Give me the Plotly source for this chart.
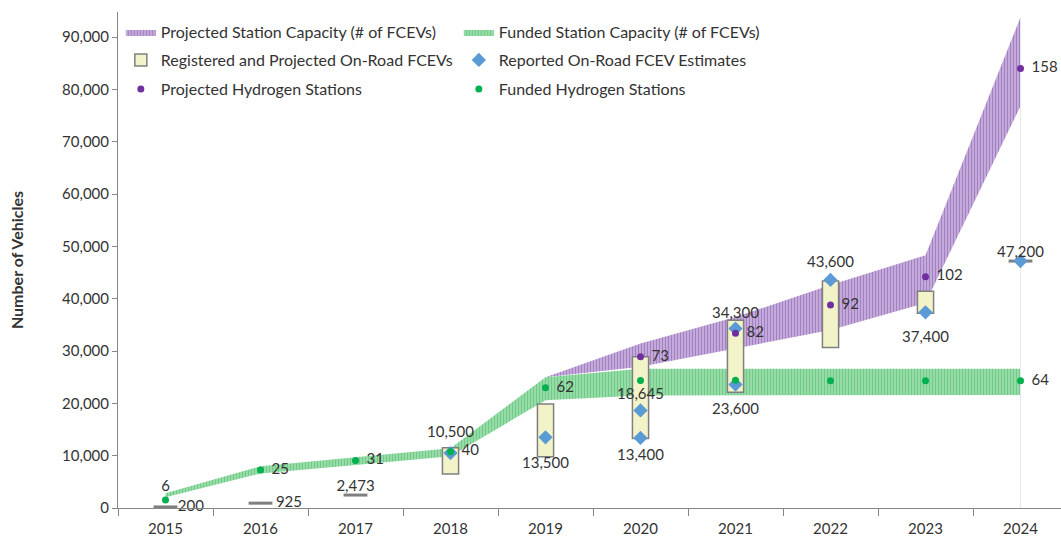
import plotly.graph_objects as go

# ---------------- data ----------------
years = [2015, 2016, 2017, 2018, 2019, 2020, 2021, 2022, 2023, 2024]

# Funded station capacity band (# of FCEVs)
funded_cap_low = [2050, 6600, 8200, 9900, 20600, 21500, 21500, 21600, 21600, 21600]
funded_cap_high = [2800, 8000, 9700, 11400, 25000, 26600, 26600, 26600, 26600, 26600]

# Projected station capacity band (# of FCEVs)
proj_years = [2019, 2020, 2021, 2022, 2023, 2024]
proj_cap_low = [25000, 27000, 30500, 34000, 39200, 76800]
proj_cap_high = [25000, 31450, 36500, 42600, 48300, 93800]

# Registered and projected on-road FCEVs (low / high)
reg_low = [200, 925, 2473, 6500, 9800, 13300, 22100, 30700, 37200, 47200]
reg_high = [200, 925, 2473, 11500, 19900, 28900, 35900, 43400, 41450, 47200]
reg_labels = ["200", "925", "2,473", "", "", "", "", "", "", ""]

# Reported on-road FCEV estimates
rep_years = [2018, 2019, 2020, 2020, 2021, 2021, 2022, 2023, 2024]
rep_vals = [10500, 13500, 18645, 13400, 34300, 23600, 43600, 37400, 47200]
rep_labels = ["10,500", "13,500", "18,645", "13,400", "34,300", "23,600", "43,600", "37,400", "47,200"]

# Projected hydrogen stations
proj_st_years = [2020, 2021, 2022, 2023, 2024]
proj_st_y = [28900, 33400, 38800, 44200, 84000]
proj_st_labels = ["73", "82", "92", "102", "158"]

# Funded hydrogen stations
fund_st_y = [1530, 7260, 9100, 10760, 22980, 24380, 24400, 24300, 24300, 24300]
fund_st_labels = ["6", "25", "31", "40", "62", "", "", "", "", "64"]

y_ticks = [0, 10000, 20000, 30000, 40000, 50000, 60000, 70000, 80000, 90000]
y_max = 94800

# ---------------- styles ----------------
FONT = "Lato, Carlito, Calibri, sans-serif"
TXT = "#333333"
AX = "#868686"
X_RANGE = [2014.5, 2014.5 + 943 / 95.0]
LABEL_FONT = dict(family=FONT, size=15, color=TXT)

# label placement (style only): position and offset size per label
rep_pos = ["top center", "bottom center", "top center", "bottom center", "top center",
           "bottom center", "top center", "bottom center", "top center"]
rep_off = [18, 30, 11, 15, 9, 27, 13, 28, 0]
reg_pos = ["middle right", "middle right", "top center"] + ["middle right"] * 7
reg_off = [18, 23, 0] + [16] * 7
fund_pos = ["top center"] + ["middle right"] * 9
fund_off = [7] + [16] * 9

fig = go.Figure()

# Projected station capacity band (base subplot)
fig.add_trace(go.Scatter(
    x=proj_years + proj_years[::-1],
    y=proj_cap_high + proj_cap_low[::-1],
    fill="toself", mode="lines", line=dict(width=0),
    fillcolor="#B89CD2",
    fillpattern=dict(shape="|", fgcolor="#7A45A8", bgcolor="#CDB8E0",
                     size=3, solidity=0.5),
    name="Projected Station Capacity (# of FCEVs)", hoverinfo="skip",
    legend="legend",
))

# Funded station capacity band
fig.add_trace(go.Scatter(
    x=years + years[::-1],
    y=funded_cap_high + funded_cap_low[::-1],
    fill="toself", mode="lines", line=dict(width=0),
    fillcolor="#7FD293",
    fillpattern=dict(shape="|", fgcolor="#34BA5A", bgcolor="#A6E0B2",
                     size=3, solidity=0.5),
    name="Funded Station Capacity (# of FCEVs)", hoverinfo="skip",
    legend="legend",
))

# Vertical light line at last year
fig.add_trace(go.Scatter(
    x=[years[-1], years[-1]], y=[0, proj_cap_high[-1]], mode="lines",
    line=dict(color="#E3E9EF", width=1), showlegend=False, hoverinfo="skip",
))

# ---- overlay subplot (drawn above the bands) ----
box_idx = [i for i in range(len(years)) if reg_high[i] > reg_low[i]]
fig.add_trace(go.Bar(
    x=[years[i] for i in box_idx],
    base=[reg_low[i] for i in box_idx],
    y=[reg_high[i] - reg_low[i] for i in box_idx],
    width=0.17,
    marker=dict(color="#F3F3C9", line=dict(color="#7F7F7F", width=1.5)),
    name="Registered and Projected On-Road FCEVs",
    xaxis="x2", yaxis="y2", legend="legend2",
))

dash_idx = [i for i in range(len(years)) if reg_high[i] == reg_low[i]]
fig.add_trace(go.Scatter(
    x=[years[i] for i in dash_idx], y=[reg_low[i] for i in dash_idx],
    mode="markers",
    marker=dict(symbol="line-ew", size=17, line=dict(color="#7F7F7F", width=3)),
    showlegend=False, xaxis="x2", yaxis="y2", hoverinfo="skip",
))

fig.add_trace(go.Scatter(
    x=rep_years, y=rep_vals, mode="markers",
    marker=dict(symbol="diamond", size=11, color="#5B9BD5"),
    name="Reported On-Road FCEV Estimates",
    xaxis="x2", yaxis="y2", legend="legend2",
))

fig.add_trace(go.Scatter(
    x=proj_st_years, y=proj_st_y, mode="markers",
    marker=dict(size=7, color="#7030A0"),
    name="Projected Hydrogen Stations",
    xaxis="x2", yaxis="y2", legend="legend3",
))

fig.add_trace(go.Scatter(
    x=years, y=fund_st_y, mode="markers",
    marker=dict(size=7, color="#00B050"),
    name="Funded Hydrogen Stations",
    xaxis="x2", yaxis="y2", legend="legend3",
))


def add_labels(x, y, text, pos, off):
    fig.add_trace(go.Scatter(
        x=x, y=y, text=text, textposition=pos, mode="markers+text",
        marker=dict(size=off, opacity=0), textfont=LABEL_FONT,
        showlegend=False, hoverinfo="skip", xaxis="x2", yaxis="y2",
        cliponaxis=False,
    ))


add_labels(rep_years, rep_vals, rep_labels, rep_pos, rep_off)
add_labels(years, reg_low, reg_labels, reg_pos, reg_off)
add_labels(proj_st_years, proj_st_y, proj_st_labels, "middle right", 16)
add_labels(years, fund_st_y, fund_st_labels, fund_pos, fund_off)

LEG = dict(orientation="h", x=0.003, xanchor="left", yanchor="top",
           entrywidth=293, font=dict(family=FONT, size=16, color=TXT),
           bgcolor="rgba(0,0,0,0)", traceorder="normal")

fig.update_layout(
    width=1061, height=537,
    margin=dict(l=118, r=0, t=12, b=29),
    paper_bgcolor="white", plot_bgcolor="white",
    font=dict(family=FONT, size=15, color=TXT),
    barmode="overlay",
    legend=dict(LEG, y=0.994),
    legend2=dict(LEG, y=0.9375),
    legend3=dict(LEG, y=0.879),
    xaxis=dict(
        range=X_RANGE,
        tickvals=years, ticktext=[str(y) for y in years],
        ticks="", showline=True, linecolor=AX, linewidth=1,
        showgrid=False, zeroline=False, ticklabelstandoff=7,
        tickfont=dict(family=FONT, size=15, color=TXT),
        minor=dict(tickvals=[y - 0.5 for y in years] + [years[-1] + 0.5],
                   ticks="outside", ticklen=7, tickcolor=AX, tickwidth=1, showgrid=False),
        fixedrange=True,
    ),
    yaxis=dict(
        range=[0, y_max], tickvals=y_ticks, tickformat=",",
        ticks="outside", ticklen=5, tickcolor=AX,
        showline=True, linecolor=AX, linewidth=1,
        showgrid=False, zeroline=False,
        tickfont=dict(family=FONT, size=15, color=TXT),
        title=dict(text="<b>Number of Vehicles</b>", standoff=34,
                   font=dict(family=FONT, size=16, color=TXT)),
        fixedrange=True,
    ),
    xaxis2=dict(range=X_RANGE, overlaying="x", visible=False, fixedrange=True),
    yaxis2=dict(range=[0, y_max], overlaying="y", visible=False, fixedrange=True),
    showlegend=True,
)

fig.write_html(
    "out.html",
    config={"displayModeBar": False},
    post_script="document.body.style.margin='0';document.body.style.overflow='hidden';",
)
